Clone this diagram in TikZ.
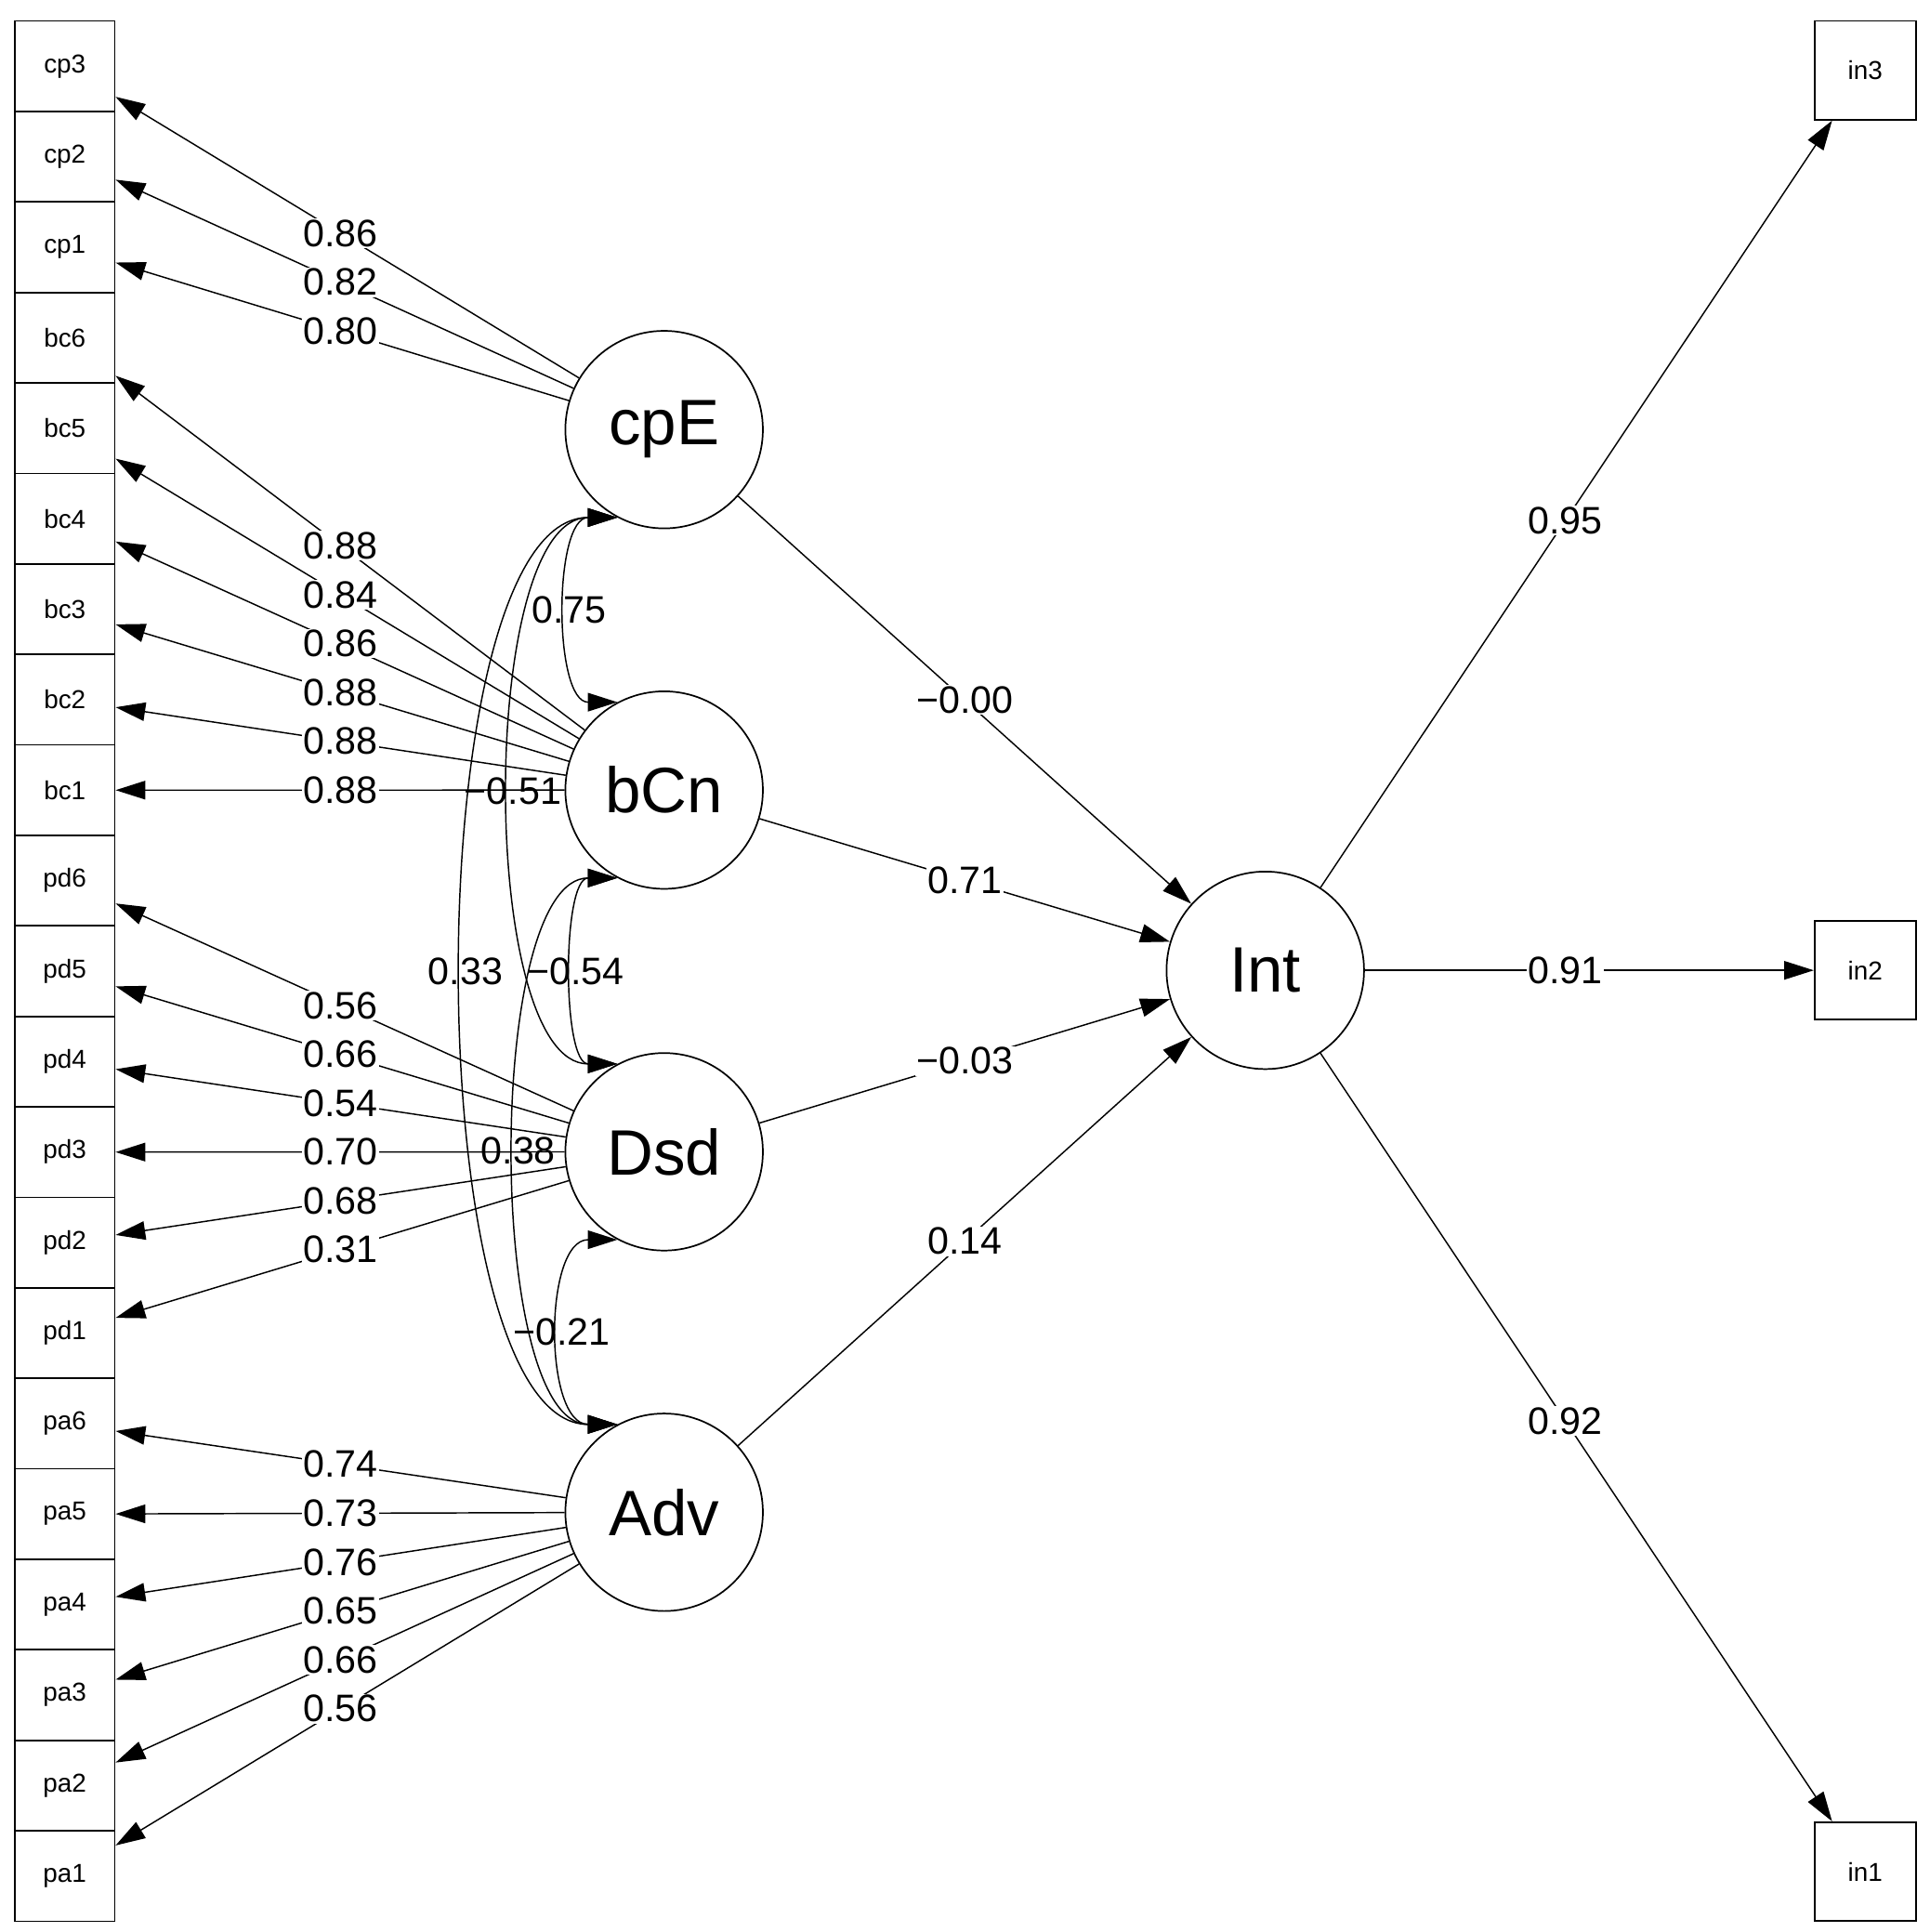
\documentclass[tikz,border=0pt]{standalone}
\usepackage{fontspec}
\setmainfont{Liberation Sans}
\usetikzlibrary{arrows.meta,calc}
\begin{document}
\begin{tikzpicture}[x=1pt,y=-1pt,
  box/.style={draw,line width=1.3pt,minimum width=81pt,minimum height=73.3pt,inner sep=0,font=\fontsize{21}{21}\selectfont},
  rbox/.style={draw,line width=1.3pt,minimum width=82pt,minimum height=80pt,inner sep=0,font=\fontsize{21}{21}\selectfont},
  lat/.style={draw,circle,line width=1.3pt,minimum size=160pt,inner sep=0,font=\fontsize{52}{52}\selectfont},
  arr/.style={line width=1.1pt,-{Triangle[length=24pt,width=15pt]}},
  cov/.style={line width=1.1pt,{Triangle[length=24pt,width=15pt]}-{Triangle[length=24pt,width=15pt]}},
  lbl/.style={fill=white,inner sep=1pt,font=\fontsize{31}{31}\selectfont}]
\useasboundingbox (0,0) rectangle (1563,1565);
\foreach \n [count=\i from 0] in {cp3,cp2,cp1,bc6,bc5,bc4,bc3,bc2,bc1,pd6,pd5,pd4,pd3,pd2,pd1,pa6,pa5,pa4,pa3,pa2,pa1}
  \node[box] (\n) at (52.5,{17+73.3*(\i+0.5)}) {\n};
\node[rbox] (in3) at (1511,57) {in3};
\node[rbox] (in2) at (1511,786) {in2};
\node[rbox] (in1) at (1511,1516) {in1};
\node[lat] (cpE) at (538,348) {cpE};
\node[lat] (bCn) at (538,640) {bCn};
\node[lat] (Dsd) at (538,933) {Dsd};
\node[lat] (Adv) at (538,1225) {Adv};
\node[lat] (Int) at (1025,786) {Int};
% loadings
\foreach \l/\b/\v in {cpE/cp3/0.86,cpE/cp2/0.82,cpE/cp1/0.80,
  bCn/bc6/0.88,bCn/bc5/0.84,bCn/bc4/0.86,bCn/bc3/0.88,bCn/bc2/0.88,bCn/bc1/0.88,
  Dsd/pd6/0.56,Dsd/pd5/0.66,Dsd/pd4/0.54,Dsd/pd3/0.70,Dsd/pd2/0.68,Dsd/pd1/0.31,
  Adv/pa6/0.74,Adv/pa5/0.73,Adv/pa4/0.76,Adv/pa3/0.65,Adv/pa2/0.66,Adv/pa1/0.56}{
  \draw[arr] (\l) -- (\b);
  \path (\l.center) -- (\b.center) node[lbl,pos=0.54]{\v};
}
\foreach \b/\v in {in3/0.95,in2/0.91,in1/0.92}{
  \draw[arr] (Int) -- (\b);
  \path (Int.center) -- (\b.center) node[lbl,pos=0.5]{\v};
}
\foreach \l/\v in {cpE/−0.00,bCn/0.71,Dsd/−0.03,Adv/0.14}{
  \draw[arr] (\l) -- (Int);
  \path (\l.center) -- (Int.center) node[lbl,pos=0.5]{\v};
}
% covariances
\foreach \a/\b/\d/\v in {cpE/Adv/-164/0.33,cpE/Dsd/-113/−0.51,bCn/Adv/-107/0.38,
  cpE/bCn/-52/0.75,bCn/Dsd/-45/−0.54,Dsd/Adv/-60/−0.21}{
  \draw[cov] (\a.242) .. controls ($(\a.242)+(\d,0)$) and ($(\b.118)+(\d,0)$) .. (\b.118)
    node[lbl,pos=0.5,fill=none]{\v};
}
\end{tikzpicture}
\end{document}
